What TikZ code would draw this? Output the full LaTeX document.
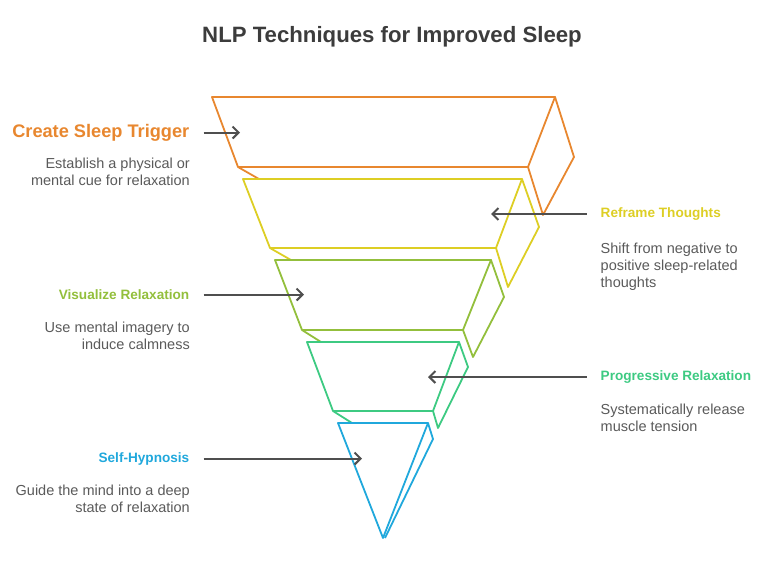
\documentclass[tikz,border=0pt]{standalone}
\usepackage{fontspec}
\setmainfont{Liberation Sans}
\usepackage{xcolor}
\usetikzlibrary{arrows.meta, positioning}

\definecolor{triggerclr}{HTML}{E8872F}
\definecolor{reframeclr}{HTML}{DDCE24}
\definecolor{visualclr}{HTML}{93BF3C}
\definecolor{progressclr}{HTML}{3DCA82}
\definecolor{hypnoclr}{HTML}{20A8DC}
\definecolor{titlegray}{HTML}{3C3C3C}
\definecolor{descgray}{HTML}{5A5A5A}
\definecolor{arrowgray}{HTML}{4F4F4F}

\begin{document}
\begin{tikzpicture}[
			x=1pt, y=-1pt,
			layer/.style={line width=1.8pt, line join=round},
			head/.style={font=\fontsize{13.6}{16}\selectfont\bfseries, inner sep=0pt},
			desc/.style={font=\fontsize{14.5}{17}\selectfont, text=descgray, inner sep=0pt},
			pointer/.style={-{Straight Barb[length=6pt, width=12pt]}, line width=2pt, color=arrowgray, shorten <=14pt}
			]
			
			\useasboundingbox (0,0) rectangle (768,568);
			
			% --- Title ---
			\node[font=\fontsize{22.2}{26}\selectfont\bfseries, text=titlegray, anchor=base] (title) at (392,42) {NLP Techniques for Improved Sleep};
			
			% --- Funnel Layers (top to bottom) ---
			% Layer 1: Create Sleep Trigger
			\draw[layer, triggerclr] (212,97) -- (555,97) -- (528,167) -- (238,167) -- cycle;
			\draw[layer, triggerclr] (555,97) -- (574,157) -- (543,215) -- (528,167);
			\draw[layer, triggerclr] (238,167) -- (259,179);
			
			% Layer 2: Reframe Thoughts
			\draw[layer, reframeclr] (243,179) -- (522,179) -- (496,248) -- (270,248) -- cycle;
			\draw[layer, reframeclr] (522,179) -- (539,227) -- (508,287) -- (496,248);
			\draw[layer, reframeclr] (270,248) -- (291,260);
			
			% Layer 3: Visualize Relaxation
			\draw[layer, visualclr] (275,260) -- (491,260) -- (463,330) -- (302,330) -- cycle;
			\draw[layer, visualclr] (491,260) -- (504,297) -- (473,357) -- (463,330);
			\draw[layer, visualclr] (302,330) -- (321,342);
			
			% Layer 4: Progressive Relaxation
			\draw[layer, progressclr] (307,342) -- (459,342) -- (433,411) -- (333,411) -- cycle;
			\draw[layer, progressclr] (459,342) -- (468,367) -- (438,428) -- (433,411);
			\draw[layer, progressclr] (333,411) -- (352,423);
			
			% Layer 5: Self-Hypnosis
			\draw[layer, hypnoclr] (338,423) -- (428,423) -- (383,538) -- cycle;
			\draw[layer, hypnoclr] (428,423) -- (433,439) -- (385,538);
			
			% --- Arrow Targets ---
			\coordinate (trigger_tip) at (240,132.5);
			\coordinate (reframe_tip) at (491,214);
			\coordinate (visual_tip) at (304,294.5);
			\coordinate (progress_tip) at (428,377);
			\coordinate (hypno_tip) at (362,458.5);
			
			% --- Left Column Labels ---
			\node[head, font=\fontsize{18.2}{21}\selectfont\bfseries, text=triggerclr, anchor=east] (trigger) at (189.5,132.5) {Create Sleep Trigger};
			\node[desc, anchor=north east, align=right] (trigger_desc) at (190,157.8) {Establish a physical or\\mental cue for relaxation};
			
			\node[head, text=visualclr, anchor=east] (visual) at (189.5,294.5) {Visualize Relaxation};
			\node[desc, anchor=north east, align=right] (visual_desc) at (190,321.7) {Use mental imagery to\\induce calmness};
			
			\node[head, text=hypnoclr, anchor=east] (hypno) at (189.5,458.5) {Self-Hypnosis};
			\node[desc, anchor=north east, align=right] (hypno_desc) at (190,484.4) {Guide the mind into a deep\\state of relaxation};
			
			% --- Right Column Labels ---
			\node[head, text=reframeclr, anchor=west] (reframe) at (600.5,214) {Reframe Thoughts};
			\node[desc, anchor=north west, align=left] (reframe_desc) at (600.5,242.7) {Shift from negative to\\positive sleep-related\\thoughts};
			
			\node[head, text=progressclr, anchor=west] (progress) at (600.5,377) {Progressive Relaxation};
			\node[desc, anchor=north west, align=left] (progress_desc) at (600.5,403.4) {Systematically release\\muscle tension};
			
			% --- Pointers into the Funnel ---
			\draw[pointer] (trigger) -- (trigger_tip);
			\draw[pointer] (reframe) -- (reframe_tip);
			\draw[pointer] (visual) -- (visual_tip);
			\draw[pointer] (progress) -- (progress_tip);
			\draw[pointer] (hypno) -- (hypno_tip);
			
			\end{tikzpicture}
\end{document}
